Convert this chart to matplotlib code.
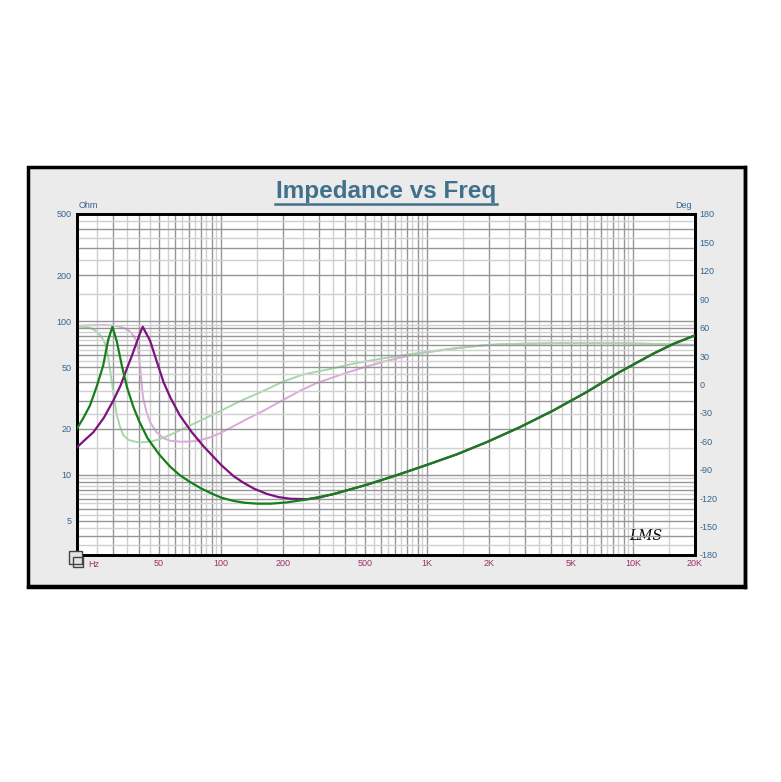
import matplotlib
matplotlib.use("Agg")
import matplotlib.pyplot as plt
from matplotlib.patches import Rectangle
import numpy as np

plt.rcParams['font.family'] = ['Liberation Sans', 'DejaVu Sans']
plt.rcParams['axes.unicode_minus'] = False

# impedance (Ohm)
f_imp_green = [20, 21.5, 23.1, 25, 26.8, 28.3, 29.7, 31.2, 33.0, 35, 37.5, 40, 44, 50, 56.6, 63,
               70, 80, 90, 100, 115, 130, 150, 175, 208, 261, 350, 510, 740, 1000, 1400,
               1948, 2824, 4100, 5940, 8600, 12520, 15780, 20000]
z_green = [20.0, 23.5, 28.2, 38, 51.5, 75, 92, 74, 51.5, 37, 27.8, 22.4, 17.3, 13.6, 11.3, 9.95,
           9.05, 8.15, 7.55, 7.1, 6.75, 6.57, 6.48, 6.48, 6.6, 6.9, 7.47, 8.6, 10.1, 11.6, 13.6,
           16.3, 20.4, 26.2, 34.5, 46.6, 61.4, 71.4, 80.9]

f_imp_purple = [20, 22, 24, 27, 30, 32.5, 34.9, 37, 39, 40.5, 41.7, 43, 45.2, 48.5, 52.6, 57,
                63.2, 72, 82, 100, 115, 128, 145, 167, 190, 216, 261, 300, 350, 510, 740,
                1000, 1400, 1948, 2824, 4100, 5940, 8600, 12520, 15780, 20000]
z_purple = [15.1, 17.0, 18.9, 23.5, 30.4, 38, 49, 60, 73.1, 84, 92, 85, 75, 56, 40.1, 31.5,
            24.3, 19.0, 15.4, 11.6, 9.8, 8.9, 8.1, 7.5, 7.15, 6.98, 6.93, 7.1, 7.47, 8.6, 10.1,
            11.6, 13.6, 16.3, 20.4, 26.2, 34.5, 46.6, 61.4, 71.4, 80.9]

# phase (deg)
f_ph_green = [20, 21.5, 23.1, 24.5, 25.9, 27, 27.9, 28.7, 29.5, 30.3, 31.2, 32.3, 33.5, 35.5,
              39, 42, 45.2, 50, 56.6, 65, 76.2, 88, 100, 114, 130, 150, 175, 200, 250, 350,
              450, 617, 800, 1000, 1400, 1948, 2800, 4100, 8600, 12520, 20000]
p_green = [61, 60.8, 60, 57, 52.3, 46, 38.2, 21, 3, -15, -32.2, -44, -53.3, -58.5,
           -60.8, -61, -60.4, -58, -53.3, -47, -40, -33.5, -27.7, -21.5, -15.5, -9.7, -3, 3, 10.5, 17,
           22.5, 27.7, 31.5, 34.5, 38.5, 41.7, 43, 43.5, 43.5, 42.8, 41.7]

f_ph_purple = [20, 23, 26.8, 30, 32.3, 34.3, 36.2, 37.7, 39, 39.7, 40.4, 41.1, 41.9, 43.5, 45.2,
               48.5, 52.6, 57, 63.2, 70, 76.2, 88, 98.8, 114, 135, 160, 200, 240, 290, 350,
               423, 510, 617, 750, 883, 1100, 1292, 1624, 2200, 4100, 8600, 12520, 20000]
p_purple = [61.8, 62.5, 62.8, 62.2, 61, 59, 55.8, 51, 45.2, 34, 20.6, 3, -14.6, -29, -39.3,
            -50, -56.8, -59.5, -60.4, -60.3, -59.6, -56, -51.5, -44.5, -36, -28, -16.4, -7, 1.3, 7.5,
            13.5, 19, 24.1, 28.5, 32.2, 35.2, 37.2, 40, 42.3, 43.5, 43.5, 42.8, 41.7]

x_ticks = [50, 100, 200, 500, 1000, 2000, 5000, 10000, 20000]
x_labels = ['50', '100', '200', '500', '1K', '2K', '5K', '10K', '20K']
z_ticks = [5, 10, 20, 50, 100, 200, 500]
deg_ticks = list(range(-180, 181, 30))

blue = '#34648f'
maroon = '#993366'

fig = plt.figure(figsize=(7.81, 7.82), dpi=100)
fig.patch.set_facecolor('white')

# grey panel with black frame
fig.patches.append(Rectangle((0.0359, 0.2506), 0.918, 0.5358, transform=fig.transFigure,
                             facecolor='#ebebeb', edgecolor='black', lw=2.5, zorder=-5))
fig.add_artist(plt.Line2D([0.0359, 0.9545], [0.2490, 0.2490], color='black', lw=2.5, zorder=-4))
fig.add_artist(plt.Line2D([0.9545, 0.9545], [0.2490, 0.7864], color='black', lw=2.5, zorder=-4))

ax = fig.add_axes([0.0986, 0.2903, 0.7913, 0.4361])   # phase, underneath
ax2 = ax.twinx()                                        # impedance, on top
ax.set_facecolor('white')

ax.set_xscale('log')
ax.set_xlim(20, 20000)
ax.set_ylim(-180, 180)
ax2.set_yscale('log')
ax2.set_ylim(3, 500)

# grid: dark at n*10^k, light at (n+0.5)*10^k
for dec in [10, 100, 1000, 10000]:
    for n in range(1, 10):
        v = n * dec
        if 20 <= v <= 20000:
            ax.axvline(v, color='#969696', lw=1.0, zorder=0)
        h = (n + 0.5) * dec
        if 20 < h < 20000:
            ax.axvline(h, color='#d0d0d0', lw=1.0, zorder=0)
for dec in [1, 10, 100]:
    for n in range(1, 10):
        v = n * dec
        if 3 <= v <= 500:
            ax2.axhline(v, color='#969696', lw=1.0, zorder=0)
        h = (n + 0.5) * dec
        if 3 < h < 500:
            ax2.axhline(h, color='#d0d0d0', lw=1.0, zorder=0)

ax.plot(f_ph_purple, p_purple, color='#dca8dc', lw=1.4, zorder=3)
ax.plot(f_ph_green, p_green, color='#a6d7a6', lw=1.4, zorder=3)
ax2.plot(f_imp_purple, z_purple, color='#7e127e', lw=1.6, zorder=3)
ax2.plot(f_imp_green, z_green, color='#15801a', lw=1.6, zorder=4)

ax.set_xticks(x_ticks)
ax.set_xticklabels(x_labels)
ax.xaxis.set_minor_locator(matplotlib.ticker.NullLocator())
ax.tick_params(axis='x', length=0, pad=3, labelsize=6.5, labelcolor=maroon)

ax.set_yticks(deg_ticks)
ax.yaxis.tick_right()
ax.tick_params(axis='y', length=0, pad=3, labelsize=6.5, labelcolor=blue)

ax2.yaxis.tick_left()
ax2.set_yticks(z_ticks)
ax2.set_yticklabels([str(t) for t in z_ticks])
ax2.yaxis.set_minor_locator(matplotlib.ticker.NullLocator())
ax2.tick_params(axis='y', length=0, pad=4, labelsize=6.5, labelcolor=blue)

for a in (ax, ax2):
    for s in a.spines.values():
        s.set_linewidth(2)
        s.set_color('black')

ax.text(0.002, 1.012, 'Ohm', transform=ax.transAxes, fontsize=6.5, color=blue, ha='left', va='bottom')
ax.text(0.995, 1.012, 'Deg', transform=ax.transAxes, fontsize=6.5, color=blue, ha='right', va='bottom')
ax.text(0.018, -0.016, 'Hz', transform=ax.transAxes, fontsize=6.5, color=maroon, ha='left', va='top')
ax.text(0.92, 0.035, 'LMS', transform=ax.transAxes, fontsize=10, fontstyle='italic',
        family='DejaVu Serif', color='black', ha='center', va='bottom', zorder=6)

# small icon at the corner
fig.patches.append(Rectangle((0.0885, 0.2790), 0.016, 0.016, transform=fig.transFigure,
                             facecolor='#e4e4e4', edgecolor='#444444', lw=1, zorder=10))
fig.patches.append(Rectangle((0.0935, 0.2745), 0.013, 0.013, transform=fig.transFigure,
                             facecolor='none', edgecolor='#444444', lw=1, zorder=11))

fig.text(0.4945, 0.7555, 'Impedance vs Freq', fontsize=17.5, fontweight='bold',
         color='#41708c', ha='center', va='center')
fig.add_artist(plt.Line2D([0.352, 0.637], [0.7385, 0.7385], color='#41708c', lw=1.8))

fig.savefig('out.png', dpi=100, facecolor='white')
